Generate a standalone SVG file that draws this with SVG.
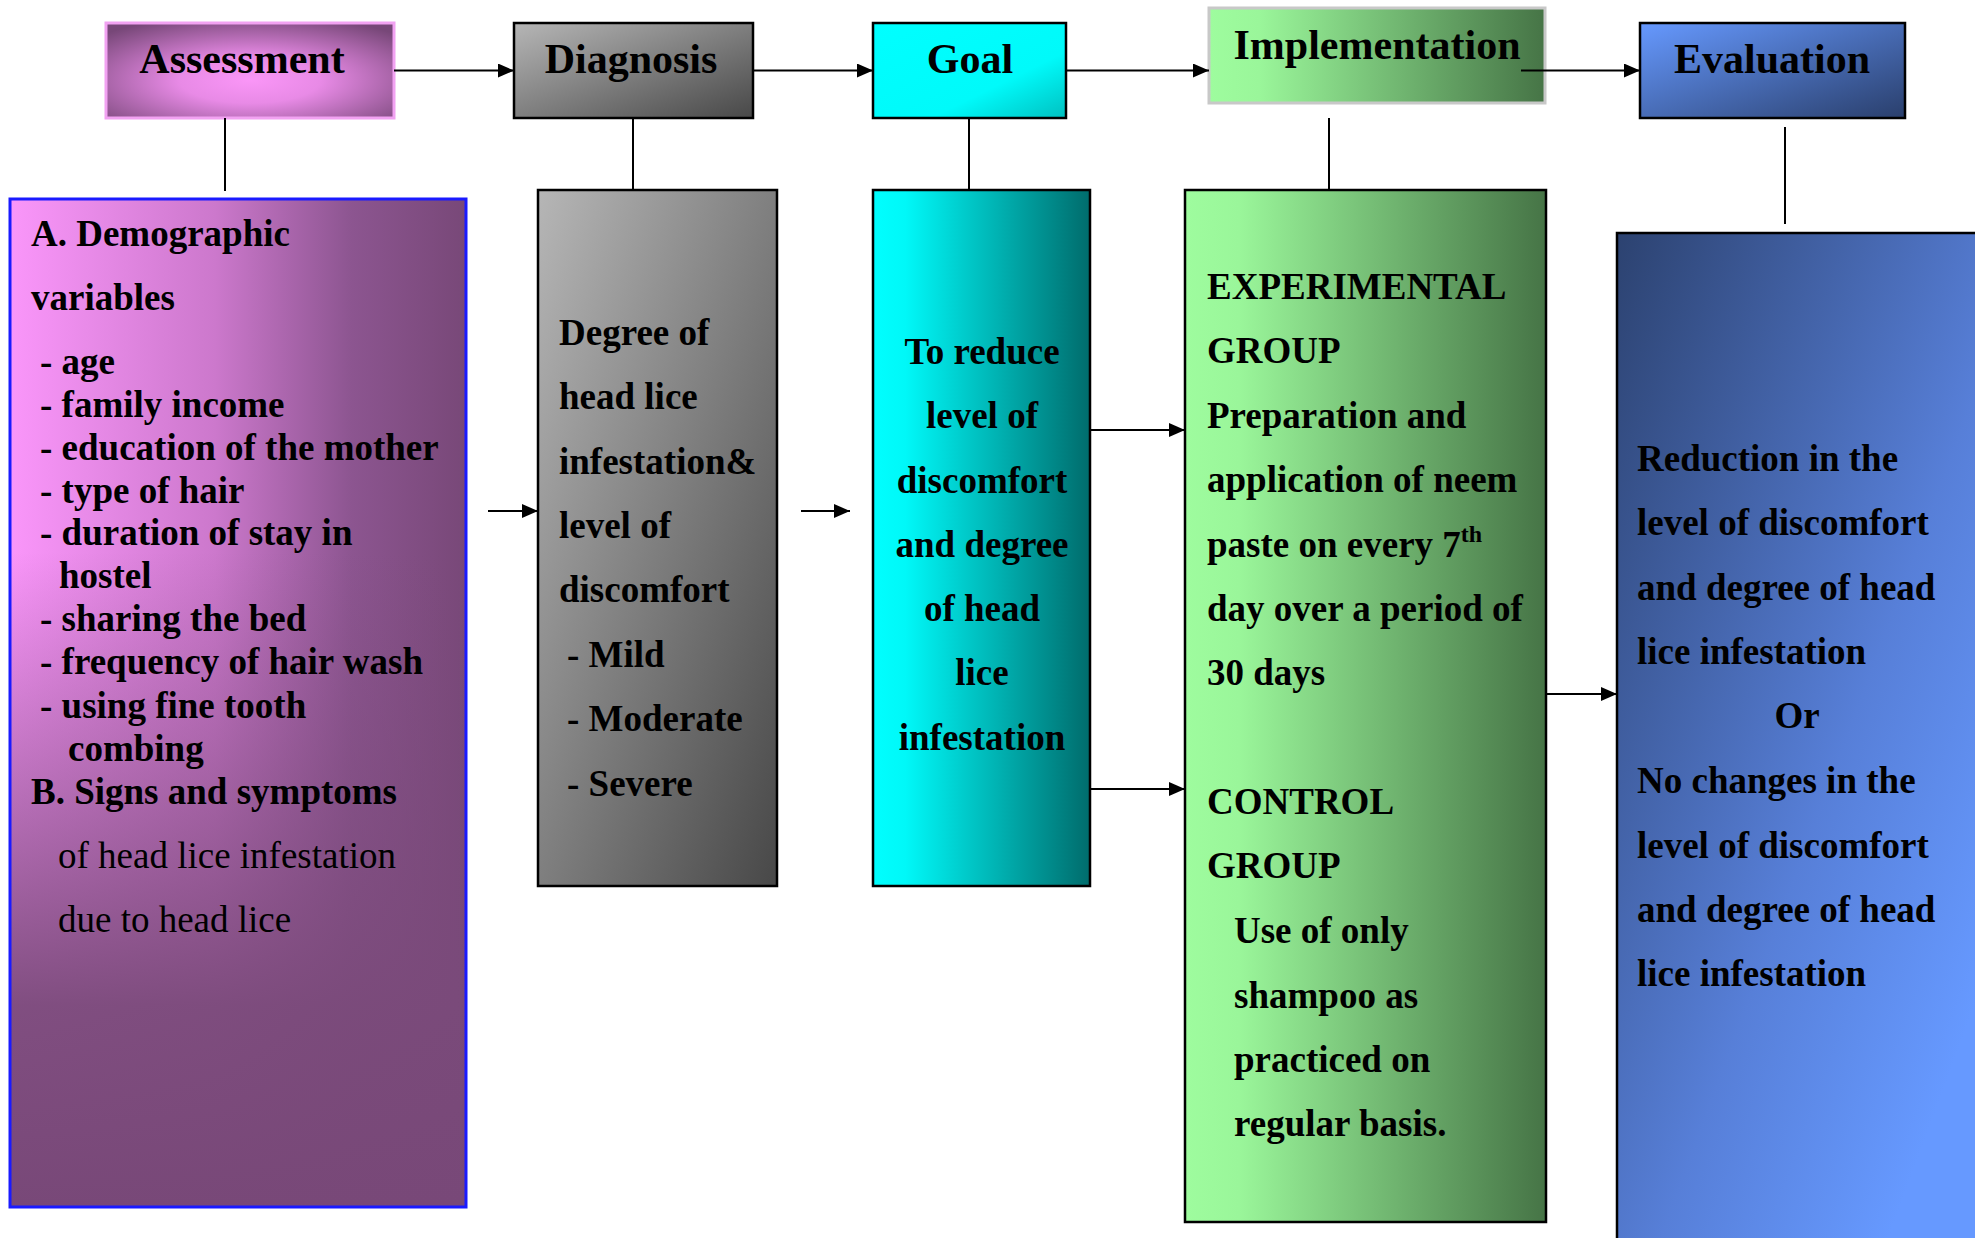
<svg xmlns="http://www.w3.org/2000/svg" width="1975" height="1238" viewBox="0 0 1975 1238">
<defs>
  <radialGradient id="gAssessTop" cx="50%" cy="60%" r="70%">
    <stop offset="0" stop-color="#fa96f7"/>
    <stop offset="0.35" stop-color="#e88ae6"/>
    <stop offset="1" stop-color="#774778"/>
  </radialGradient>
  <linearGradient id="gGray" x1="0" y1="0" x2="1" y2="1">
    <stop offset="0" stop-color="#b6b6b6"/>
    <stop offset="1" stop-color="#484848"/>
  </linearGradient>
  <linearGradient id="gCyanTop" x1="0" y1="0" x2="1" y2="1">
    <stop offset="0" stop-color="#00ffff"/>
    <stop offset="0.65" stop-color="#00fafa"/>
    <stop offset="1" stop-color="#00c0c0"/>
  </linearGradient>
  <linearGradient id="gCyan" x1="0" y1="0" x2="1" y2="0">
    <stop offset="0" stop-color="#00ffff"/>
    <stop offset="0.15" stop-color="#00f8f8"/>
    <stop offset="1" stop-color="#006c6c"/>
  </linearGradient>
  <linearGradient id="gGreen" x1="0" y1="0" x2="1" y2="0">
    <stop offset="0" stop-color="#9efc9e"/>
    <stop offset="0.15" stop-color="#9af69a"/>
    <stop offset="1" stop-color="#467446"/>
  </linearGradient>
  <linearGradient id="gBlueTop" x1="0" y1="0" x2="1" y2="1">
    <stop offset="0" stop-color="#6699ff"/>
    <stop offset="1" stop-color="#2a3f6c"/>
  </linearGradient>
  <linearGradient id="gBlue" x1="0" y1="0" x2="1" y2="1">
    <stop offset="0" stop-color="#2c4270"/>
    <stop offset="0.55" stop-color="#577fd8"/>
    <stop offset="0.85" stop-color="#6699ff"/>
    <stop offset="1" stop-color="#6699ff"/>
  </linearGradient>
  <linearGradient id="gPinkH" x1="0" y1="0" x2="1" y2="0">
    <stop offset="0" stop-color="#fa96fa"/>
    <stop offset="0.45" stop-color="#cc78cc"/>
    <stop offset="0.75" stop-color="#8c5590"/>
    <stop offset="1" stop-color="#784878"/>
  </linearGradient>
  <linearGradient id="gPinkV" x1="0" y1="0" x2="0" y2="1">
    <stop offset="0" stop-color="#7a4a7a" stop-opacity="0"/>
    <stop offset="0.35" stop-color="#7a4a7a" stop-opacity="0"/>
    <stop offset="0.8" stop-color="#7a4a7a" stop-opacity="0.95"/>
    <stop offset="1" stop-color="#784878" stop-opacity="1"/>
  </linearGradient>
  <marker id="arr" markerWidth="16" markerHeight="14" refX="16" refY="7" orient="auto" markerUnits="userSpaceOnUse">
    <path d="M0,0 L16,7 L0,14 z" fill="#000"/>
  </marker>
</defs>
<style>
  .t { font-family: "Liberation Serif", "Times New Roman", serif; font-weight: bold; fill: #000; }
  .title { font-size: 42px; text-anchor: middle; }
  .b { font-size: 37px; }
  .r { font-weight: normal; }
  .c { text-anchor: middle; }
  .blk { stroke: #000; stroke-width: 2.5; }
  .conn line { stroke: #000; stroke-width: 2; fill: none; }
</style>
<rect x="0" y="0" width="1975" height="1238" fill="#fff"/>

<g id="assessment">
  <rect x="106" y="23" width="288" height="95" fill="url(#gAssessTop)" stroke="#f2a2f2" stroke-width="3"/>
  <text class="t title" x="242" y="73">Assessment</text>
</g>
<g id="diagnosis">
  <rect x="514" y="23" width="239" height="95" fill="url(#gGray)" class="blk"/>
  <text class="t title" x="631" y="73">Diagnosis</text>
</g>
<g id="goal">
  <rect x="873" y="23" width="193" height="95" fill="url(#gCyanTop)" class="blk"/>
  <text class="t title" x="970" y="73">Goal</text>
</g>
<g id="implementation">
  <rect x="1209" y="8" width="336" height="95" fill="url(#gGreen)" stroke="#c8c8c8" stroke-width="3"/>
  <text class="t title" x="1377" y="59">Implementation</text>
</g>
<g id="evaluation">
  <rect x="1640" y="23" width="265" height="95" fill="url(#gBlueTop)" class="blk"/>
  <text class="t title" x="1772" y="73">Evaluation</text>
</g>

<g id="assessment-detail">
  <rect x="10" y="199" width="456" height="1008" fill="url(#gPinkH)"/>
  <rect x="10" y="199" width="456" height="1008" fill="url(#gPinkV)" stroke="#1a1aff" stroke-width="3"/>
  <text class="t b" x="31" y="246">A. Demographic</text>
  <text class="t b" x="31" y="310">variables</text>
  <text class="t b" x="40" y="374">- age</text>
  <text class="t b" x="40" y="417">- family income</text>
  <text class="t b" x="40" y="460">- education of the mother</text>
  <text class="t b" x="40" y="503">- type of hair</text>
  <text class="t b" x="40" y="545">- duration of stay in</text>
  <text class="t b" x="59" y="588">hostel</text>
  <text class="t b" x="40" y="631">- sharing the bed</text>
  <text class="t b" x="40" y="674">- frequency of hair wash</text>
  <text class="t b" x="40" y="718">- using fine tooth</text>
  <text class="t b" x="68" y="761">combing</text>
  <text class="t b" x="31" y="804">B. Signs and symptoms</text>
  <text class="t b r" x="58" y="868">of head lice infestation</text>
  <text class="t b r" x="58" y="932">due to head lice</text>
</g>

<g id="diagnosis-detail">
  <rect x="538" y="190" width="239" height="696" fill="url(#gGray)" class="blk"/>
  <text class="t b" x="559" y="345">Degree of</text>
  <text class="t b" x="559" y="409">head lice</text>
  <text class="t b" x="559" y="474">infestation&amp;</text>
  <text class="t b" x="559" y="538">level of</text>
  <text class="t b" x="559" y="602">discomfort</text>
  <text class="t b" x="567" y="667">- Mild</text>
  <text class="t b" x="567" y="731">- Moderate</text>
  <text class="t b" x="567" y="796">- Severe</text>
</g>

<g id="goal-detail">
  <rect x="873" y="190" width="217" height="696" fill="url(#gCyan)" class="blk"/>
  <text class="t b c" x="982" y="364">To reduce</text>
  <text class="t b c" x="982" y="428">level of</text>
  <text class="t b c" x="982" y="493">discomfort</text>
  <text class="t b c" x="982" y="557">and degree</text>
  <text class="t b c" x="982" y="621">of head</text>
  <text class="t b c" x="982" y="685">lice</text>
  <text class="t b c" x="982" y="750">infestation</text>
</g>

<g id="implementation-detail">
  <rect x="1185" y="190" width="361" height="1032" fill="url(#gGreen)" class="blk"/>
  <text class="t b" x="1207" y="299">EXPERIMENTAL</text>
  <text class="t b" x="1207" y="363">GROUP</text>
  <text class="t b" x="1207" y="428">Preparation and</text>
  <text class="t b" x="1207" y="492">application of neem</text>
  <text class="t b" x="1207" y="557">paste on every 7<tspan font-size="24" dy="-15">th</tspan></text>
  <text class="t b" x="1207" y="621">day over a period of</text>
  <text class="t b" x="1207" y="685">30 days</text>
  <text class="t b" x="1207" y="814">CONTROL</text>
  <text class="t b" x="1207" y="878">GROUP</text>
  <text class="t b" x="1234" y="943">Use of only</text>
  <text class="t b" x="1234" y="1008">shampoo as</text>
  <text class="t b" x="1234" y="1072">practiced on</text>
  <text class="t b" x="1234" y="1136">regular basis.</text>
</g>

<g id="evaluation-detail">
  <rect x="1617" y="233" width="380" height="1020" fill="url(#gBlue)" class="blk"/>
  <text class="t b" x="1637" y="471">Reduction in the</text>
  <text class="t b" x="1637" y="535">level of discomfort</text>
  <text class="t b" x="1637" y="600">and degree of head</text>
  <text class="t b" x="1637" y="664">lice infestation</text>
  <text class="t b c" x="1797" y="728">Or</text>
  <text class="t b" x="1637" y="793">No changes in the</text>
  <text class="t b" x="1637" y="858">level of discomfort</text>
  <text class="t b" x="1637" y="922">and degree of head</text>
  <text class="t b" x="1637" y="986">lice infestation</text>
</g>

<g id="connectors" class="conn">
  <line x1="394" y1="70.5" x2="514" y2="70.5" marker-end="url(#arr)"/>
  <line x1="753" y1="70.5" x2="873" y2="70.5" marker-end="url(#arr)"/>
  <line x1="1066" y1="70.5" x2="1209" y2="70.5" marker-end="url(#arr)"/>
  <line x1="1521" y1="70.5" x2="1640" y2="70.5" marker-end="url(#arr)"/>
  <line x1="225" y1="118" x2="225" y2="191"/>
  <line x1="633" y1="118" x2="633" y2="190"/>
  <line x1="969" y1="118" x2="969" y2="190"/>
  <line x1="1329" y1="118" x2="1329" y2="190"/>
  <line x1="1785" y1="127" x2="1785" y2="224"/>
  <line x1="488" y1="511" x2="538" y2="511" marker-end="url(#arr)"/>
  <line x1="801" y1="511" x2="850" y2="511" marker-end="url(#arr)"/>
  <line x1="1090" y1="430" x2="1185" y2="430" marker-end="url(#arr)"/>
  <line x1="1090" y1="789" x2="1185" y2="789" marker-end="url(#arr)"/>
  <line x1="1546" y1="694" x2="1617" y2="694" marker-end="url(#arr)"/>
</g>
</svg>
